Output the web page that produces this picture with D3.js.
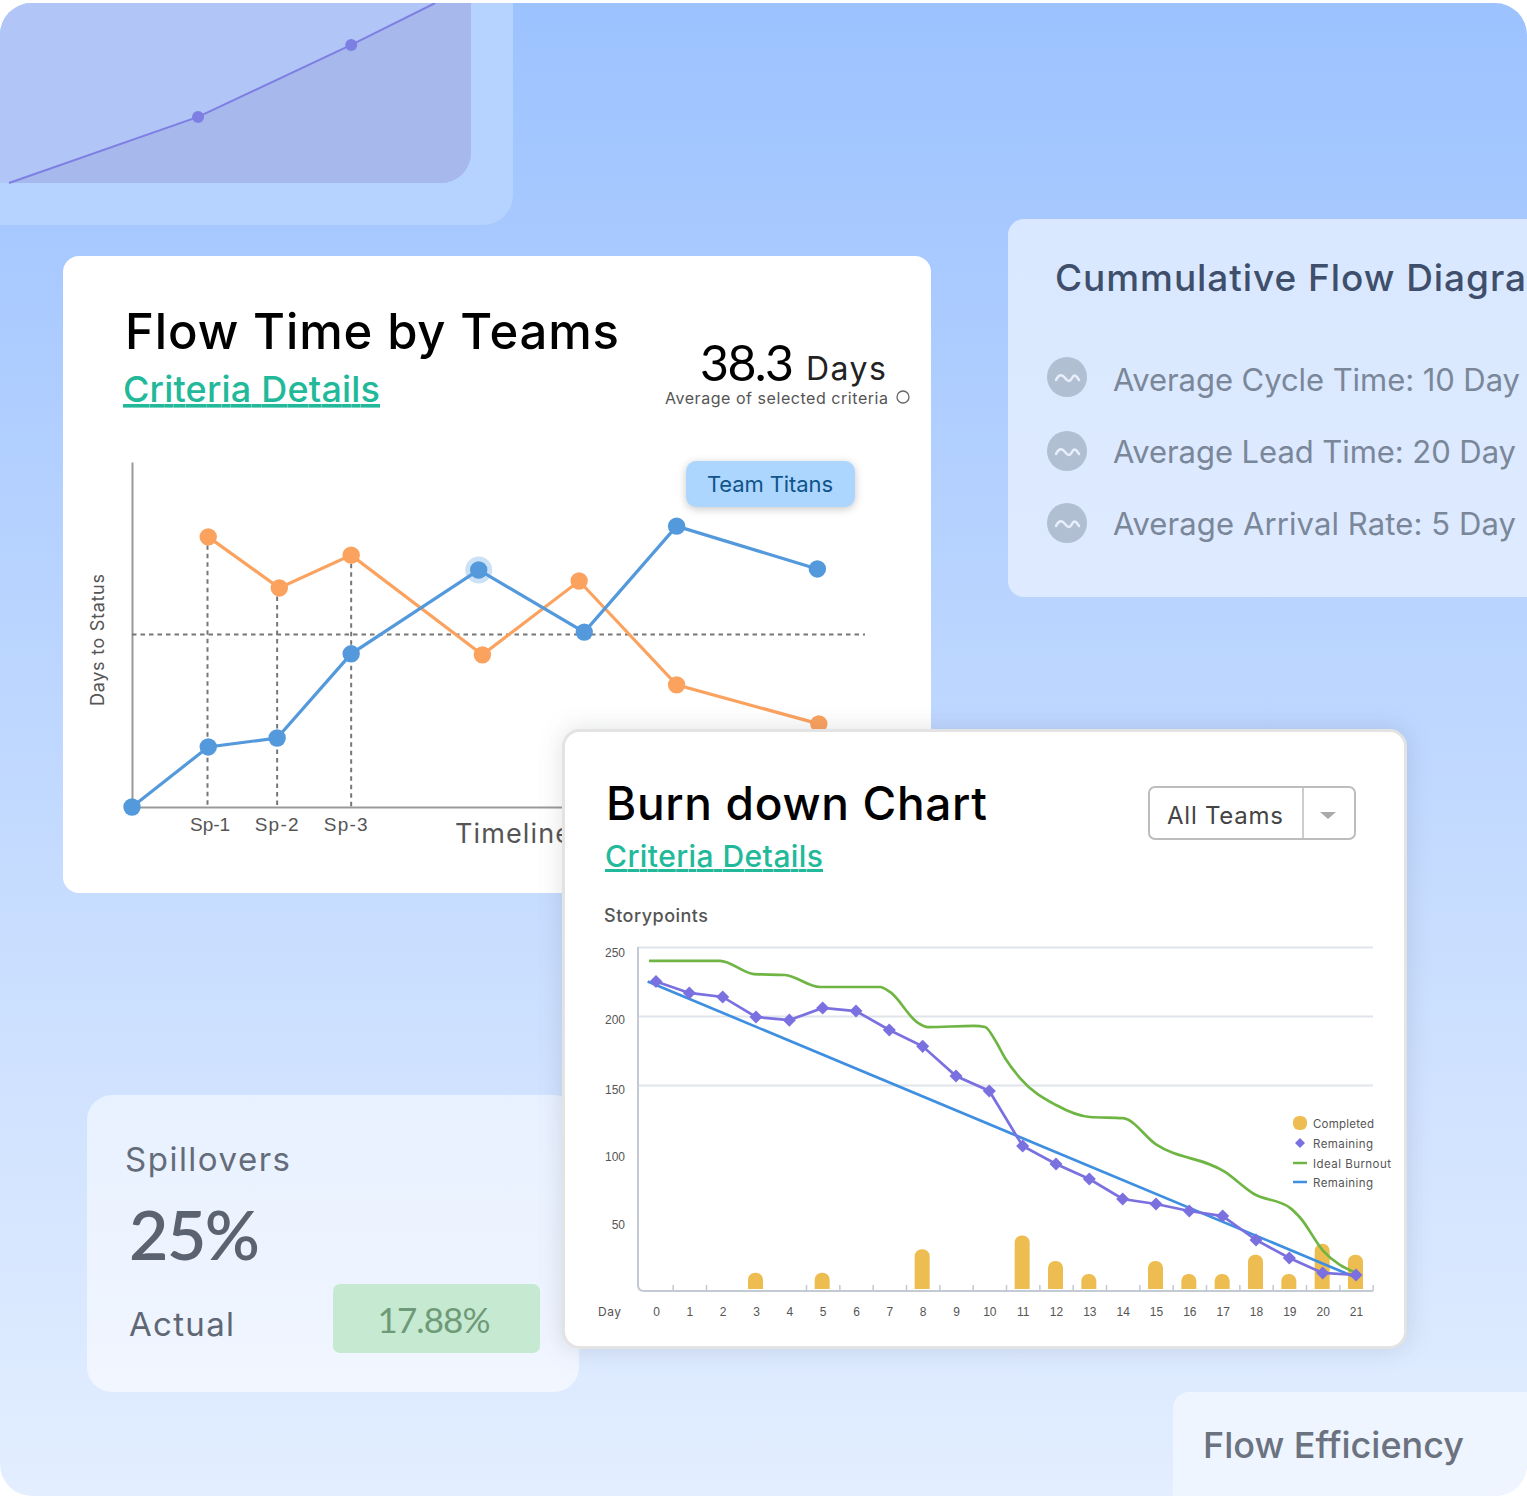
<!DOCTYPE html>
<html>
<head>
<meta charset="utf-8">
<script src="https://cdn.jsdelivr.net/npm/d3@7"></script>
<style>
  html, body { margin: 0; padding: 0; background: #fff; }
  svg { display: block; font-family: Inter, "Noto Sans", sans-serif; }
</style>
</head>
<body>
<div id="chart"></div>
<script>
// top-left decoration line
const decoX = [0.59, 12.97, 23, 28.5];
const decoY = [0, 36.7, 76.7, 100];

// Flow Time by Teams
const sprintNames = ["Sp-1", "Sp-2", "Sp-3"];
const sprintX = [10.3, 19.8, 29.9];
const sprintTop = [78.3, 63.5, 73];
const orangeX = [10.4, 20.1, 29.9, 47.8, 61, 74.3, 93.7];
const orangeY = [78.3, 63.5, 73, 44.1, 65.5, 35.4, 24.1];
const blueX = [0, 10.4, 19.8, 29.9, 47.3, 61.7, 74.3, 93.5];
const blueY = [0, 17.4, 20, 44.4, 68.7, 50.7, 81.4, 69];
const flowAverage = 50;

// Burn down chart
const days = d3.range(0, 22);
const dayBounds = [0.5, 1.5, 4.5, 5.5, 6.5, 7.5, 8.5, 9.5, 10.5, 11.5, 12.5, 13.5, 14.5, 15.5, 16.5, 17.5, 18.5, 19.5, 20.5, 21.5];
const gridValues = [250, 200, 150];
const yTickValues = [250, 200, 150, 100, 50];
const remaining = [225, 216.7, 213.8, 199.3, 197, 205.8, 203.6, 189.9, 178, 156.5, 145.7, 105.8, 92.8, 81.9, 67.4, 63.8, 58.7, 55, 37.7, 24.6, 13.8, 12.3];
const completedDays = [3, 5, 8, 11, 12, 13, 15, 16, 17, 18, 19, 20, 21];
const completed = [14, 14, 31, 41, 22.5, 13, 22.5, 13, 13, 27, 13, 35, 27];
const idealDays = [-0.21, 1.92, 2.94, 3.87, 4.92, 6.72, 7.02, 7.86, 8.16, 9.54, 9.87, 10.17, 10.47, 10.92, 12, 13.02, 14.01, 15, 17.07, 17.94, 19.02, 19.32, 20.01, 21];
const idealValues = [240, 240, 230.4, 229.7, 221, 221, 217.4, 195, 192, 192.8, 192, 182.6, 169.6, 155, 135.5, 126.8, 126, 107, 87, 71, 61, 54, 30, 13.8];
const trendDays = [-0.25, 21];
const trendValues = [225, 10.5];
const legendNames = ["Completed", "Remaining", "Ideal Burnout", "Remaining"];
const legendWidths = [61, 60, 78, 60];

// side cards
const flowMetrics = ["Average Cycle Time: 10 Day", "Average Lead Time: 20 Day", "Average Arrival Rate: 5 Day"];
const flowMetricWidths = [407, 403, 403];

const width = 1527, height = 1496;
const svg = d3.select("#chart").append("svg").attr("width", width).attr("height", height);
const defs = svg.append("defs");

const bgGrad = defs.append("linearGradient").attr("id", "bg").attr("x1", 0).attr("y1", 0).attr("x2", 0).attr("y2", 1);
bgGrad.append("stop").attr("offset", "0%").attr("stop-color", "#9cc2ff");
bgGrad.append("stop").attr("offset", "100%").attr("stop-color", "#e3eeff");

const spillGrad = defs.append("linearGradient").attr("id", "spill").attr("x1", 0).attr("y1", 0).attr("x2", 0).attr("y2", 1);
spillGrad.append("stop").attr("offset", "0%").attr("stop-color", "#e8f1ff");
spillGrad.append("stop").attr("offset", "100%").attr("stop-color", "#f1f6ff");

const cumGrad = defs.append("linearGradient").attr("id", "cum").attr("x1", 0).attr("y1", 0).attr("x2", 0).attr("y2", 1);
cumGrad.append("stop").attr("offset", "0%").attr("stop-color", "#d9e8ff");
cumGrad.append("stop").attr("offset", "100%").attr("stop-color", "#deeaff");

defs.append("clipPath").attr("id", "outer").append("rect")
    .attr("x", 0).attr("y", 3).attr("width", width).attr("height", height - 3).attr("rx", 32);
defs.append("clipPath").attr("id", "decoClip").append("path").attr("d", cornerRect(0, 3, 471, 180, [30, 0, 30, 0]));

// rect with own radius per corner: tl, tr, br, bl
function cornerRect(x, y, w, h, r) {
    const p = d3.path();
    p.moveTo(x + r[0], y);
    p.lineTo(x + w - r[1], y);
    if (r[1]) p.arcTo(x + w, y, x + w, y + r[1], r[1]);
    p.lineTo(x + w, y + h - r[2]);
    if (r[2]) p.arcTo(x + w, y + h, x + w - r[2], y + h, r[2]);
    p.lineTo(x + r[3], y + h);
    if (r[3]) p.arcTo(x, y + h, x, y + h - r[3], r[3]);
    p.lineTo(x, y + r[0]);
    if (r[0]) p.arcTo(x, y, x + r[0], y, r[0]);
    p.closePath();
    return p.toString();
}

// fit = width the text should take, the installed font runs narrower
function label(parent, str, x, y, size, color, weight, anchor, fit) {
    const t = parent.append("text")
        .attr("x", x).attr("y", y)
        .attr("font-size", size)
        .attr("fill", color)
        .attr("font-weight", weight || 400)
        .attr("text-anchor", anchor || "start")
        .text(str);
    if (fit) t.attr("textLength", fit).attr("lengthAdjust", "spacing");
    return t;
}

const root = svg.append("g").attr("clip-path", "url(#outer)");
root.append("rect").attr("width", width).attr("height", height).attr("fill", "url(#bg)");

// ---- top-left decoration
root.append("path").attr("d", cornerRect(0, 0, 513, 225, [0, 0, 30, 0])).attr("fill", "#b5d3fe");
const deco = root.append("g");
deco.append("path").attr("d", cornerRect(0, 3, 471, 180, [30, 0, 30, 0])).attr("fill", "#b1c5f6");

const decoSx = d3.scaleLinear().domain([0, 100]).range([0, 1527]);
const decoSy = d3.scaleLinear().domain([0, 100]).range([183, 3]);
const decoAreaX = decoX.concat([100]);
const decoAreaY = decoY.concat([100]);
deco.append("path")
    .attr("clip-path", "url(#decoClip)")
    .attr("fill", "#a7b9ec")
    .attr("d", d3.area().x((d, i) => decoSx(decoAreaX[i])).y0(decoSy(0)).y1((d, i) => decoSy(decoAreaY[i]))(decoAreaX));
deco.append("path")
    .attr("fill", "none").attr("stroke", "#7e7fe3").attr("stroke-width", 2)
    .attr("d", d3.line().x((d, i) => decoSx(decoX[i])).y((d, i) => decoSy(decoY[i]))(decoX));
deco.selectAll("circle").data(decoX.slice(1, 3)).join("circle")
    .attr("cx", d => decoSx(d))
    .attr("cy", (d, i) => decoSy(decoY[i + 1]))
    .attr("r", 6)
    .attr("fill", "#7e7fe3");

// ---- Cummulative Flow Diagram card
root.append("path").attr("d", cornerRect(1008, 219, 540, 378, [16, 0, 0, 16])).attr("fill", "url(#cum)");
label(root, "Cummulative Flow Diagra", 1055, 291, 37, "#3f4f6b", 500, "start", 471);
const iconY = [377, 451, 523];
flowMetrics.forEach((m, i) => {
    const cy = iconY[i];
    root.append("circle").attr("cx", 1067).attr("cy", cy).attr("r", 20).attr("fill", "#b1bfd3");
    root.append("path")
        .attr("d", `M1056,${cy + 3}c3,-6 6,-6 9,-2s5,4 7,0s4,-3 7,2`)
        .attr("fill", "none").attr("stroke", "#e8effb").attr("stroke-width", 2.5).attr("stroke-linecap", "round");
    label(root, m, 1113, [391, 463, 535][i], 31, "#7a8799", 400, "start", flowMetricWidths[i]);
});

// ---- Spillovers card
root.append("rect").attr("x", 87).attr("y", 1095).attr("width", 492).attr("height", 297).attr("rx", 25).attr("fill", "url(#spill)");
label(root, "Spillovers", 125, 1171, 33, "#646c7a", 400, "start", 165);
label(root, "25%", 129, 1260, 68, "#5b6270", 600, "start", 131).attr("font-family", "Lato");
label(root, "Actual", 129, 1336, 33, "#5f6775", 400, "start", 105);
root.append("rect").attr("x", 333).attr("y", 1284).attr("width", 207).attr("height", 69).attr("rx", 7).attr("fill", "#c6e9d1");
label(root, "17.88%", 434, 1333, 35, "#6f9a78", 400, "middle", 113).attr("font-family", "Lato");

// ---- Flow Efficiency card
root.append("path").attr("d", cornerRect(1173, 1392, 354, 104, [16, 0, 0, 0])).attr("fill", "#eff5ff");
label(root, "Flow Efficiency", 1203, 1458, 36, "#6b7280", 500, "start", 261);

// ---- Flow Time by Teams card
root.append("rect").attr("x", 63).attr("y", 256).attr("width", 868).attr("height", 637).attr("rx", 16).attr("fill", "#fff");
label(root, "Flow Time by Teams", 125, 349, 49, "#000", 500, "start", 494);
label(root, "Criteria Details", 123, 402, 36, "#22b99a", 500, "start", 257).attr("text-decoration", "underline");
label(root, "38.3", 700, 381, 50, "#000", 400, "start", 94).attr("font-family", "Lato");
label(root, "Days", 806, 380, 32, "#222", 400, "start", 80);
label(root, "Average of selected criteria", 665, 404, 16, "#555", 400, "start", 223);
root.append("circle").attr("cx", 903).attr("cy", 397).attr("r", 6).attr("fill", "#fff").attr("stroke", "#666").attr("stroke-width", 1.3);

const fx = d3.scaleLinear().domain([0, 100]).range([132, 865]);
const fy = d3.scaleLinear().domain([0, 100]).range([807, 462]);

const fAxisX = root.append("g").attr("transform", "translate(0,807)")
    .call(d3.axisBottom(fx).tickValues(sprintX).tickSize(0).tickPadding(11).tickFormat((d, i) => sprintNames[i]));
fAxisX.select(".domain").attr("stroke", "#999").attr("stroke-width", 2);
fAxisX.selectAll("text").attr("font-size", 19).attr("fill", "#555").attr("font-family", "inherit")
    .attr("dx", (d, i) => [2, -1, -6][i])
    .attr("textLength", (d, i) => [40, 44, 44][i]);

const fAxisY = root.append("g").attr("transform", "translate(132,0)")
    .call(d3.axisLeft(fy).tickValues([]).tickSize(0));
fAxisY.select(".domain").attr("stroke", "#999").attr("stroke-width", 2);

label(root, "Days to Status", 0, 0, 18, "#555", 400, "middle", 132).attr("transform", "translate(104,640) rotate(-90)");
label(root, "Timeline", 455, 843, 27, "#555", 400, "start", 116);

root.append("line")
    .attr("x1", fx(0)).attr("x2", fx(100)).attr("y1", fy(flowAverage)).attr("y2", fy(flowAverage))
    .attr("stroke", "#777").attr("stroke-width", 2).attr("stroke-dasharray", "4.5 4");
root.selectAll(".sprint-drop").data(sprintX).join("line")
    .attr("class", "sprint-drop")
    .attr("x1", d => fx(d)).attr("x2", d => fx(d))
    .attr("y1", (d, i) => fy(sprintTop[i])).attr("y2", fy(0))
    .attr("stroke", "#777").attr("stroke-width", 2).attr("stroke-dasharray", "4.5 4");

function flowSeries(xs, ys, color) {
    const g = root.append("g");
    g.append("path")
        .attr("fill", "none").attr("stroke", color).attr("stroke-width", 3.2)
        .attr("d", d3.line().x((d, i) => fx(xs[i])).y((d, i) => fy(ys[i]))(xs));
    g.selectAll("circle").data(xs).join("circle")
        .attr("cx", d => fx(d))
        .attr("cy", (d, i) => fy(ys[i]))
        .attr("r", 8.7)
        .attr("fill", color);
}
root.append("circle").attr("cx", fx(blueX[4])).attr("cy", fy(blueY[4])).attr("r", 13.5).attr("fill", "#cbe2f6");
flowSeries(orangeX, orangeY, "#fba25f");
flowSeries(blueX, blueY, "#5399db");

// team tooltip
root.append("rect").attr("x", 686).attr("y", 461).attr("width", 169).attr("height", 46).attr("rx", 10)
    .attr("fill", "#acd6fe").style("filter", "drop-shadow(0 2px 4px rgba(0,0,0,0.22))");
label(root, "Team Titans", 770, 492, 22, "#10548a", 400, "middle", 126);

// ---- Burn down card
root.append("rect").attr("x", 563.5).attr("y", 730.5).attr("width", 842).attr("height", 617).attr("rx", 16)
    .attr("fill", "#fff").attr("stroke", "#e3e3e3").attr("stroke-width", 3)
    .style("filter", "drop-shadow(0 0 12px rgba(60,70,90,0.16))");
label(root, "Burn down Chart", 606, 820, 46, "#000", 500, "start", 381);
label(root, "Criteria Details", 605, 867, 30, "#22b99a", 500, "start", 218).attr("text-decoration", "underline");

root.append("rect").attr("x", 1149).attr("y", 787).attr("width", 206).attr("height", 52).attr("rx", 6)
    .attr("fill", "#fff").attr("stroke", "#bdbdbd").attr("stroke-width", 2);
root.append("line").attr("x1", 1303).attr("x2", 1303).attr("y1", 787).attr("y2", 839).attr("stroke", "#bdbdbd").attr("stroke-width", 1.5);
label(root, "All Teams", 1167, 824, 24, "#444", 400, "start", 116);
root.append("path").attr("d", "M1320,812L1336,812L1328,819Z").attr("fill", "#aaa");

label(root, "Storypoints", 604, 922, 18, "#555", 500, "start", 104);

const bx = d3.scaleLinear().domain([0, 21]).range([656, 1356]);
const by = d3.scaleLinear().domain([0, 250]).range([1292, 947]);

const grid = root.append("g").attr("transform", "translate(638,0)")
    .call(d3.axisRight(by).tickValues(gridValues).tickSize(735).tickFormat(""));
grid.select(".domain").remove();
grid.selectAll("line").attr("stroke", "#e0e4eb").attr("stroke-width", 2.2);

// the labels do not sit exactly on their gridlines in the original
const yAxis = root.append("g").attr("transform", "translate(625,0)")
    .call(d3.axisLeft(by).tickValues(yTickValues).tickSize(0).tickPadding(0));
yAxis.select(".domain").remove();
yAxis.selectAll("text").attr("font-size", 12).attr("fill", "#555").attr("font-family", "inherit")
    .attr("dy", (d, i) => [9.5, 7.5, 8.5, 6.5, 5.5][i]);

// ticks sit between the days
const boundAxis = root.append("g").attr("transform", "translate(0,1291)")
    .call(d3.axisTop(bx).tickValues(dayBounds).tickSize(6).tickFormat(""));
boundAxis.select(".domain").remove();
boundAxis.selectAll("line").attr("stroke", "#c3cad4").attr("stroke-width", 1.5);

const dayAxis = root.append("g").attr("transform", "translate(0,1291)")
    .call(d3.axisBottom(bx).tickValues(days).tickSize(0).tickPadding(16));
dayAxis.select(".domain").remove();
dayAxis.selectAll("text").attr("font-size", 12).attr("fill", "#555").attr("font-family", "inherit");
label(root, "Day", 598, 1316, 12, "#555", 400, "start", 23);

root.append("path")
    .attr("d", "M638,947L638,1285Q638,1291 644,1291L1373,1291")
    .attr("fill", "none").attr("stroke", "#c3cad4").attr("stroke-width", 2);

root.selectAll(".done").data(completedDays).join("path")
    .attr("class", "done")
    .attr("fill", "#eebd52")
    .attr("d", (d, i) => cornerRect(bx(d) - 8, by(completed[i]), 15, by(0) - 3 - by(completed[i]), [7, 7, 0, 0]));

root.append("path")
    .attr("fill", "none").attr("stroke", "#6fb543").attr("stroke-width", 2.7)
    .attr("d", d3.line().curve(d3.curveMonotoneX).x((d, i) => bx(idealDays[i])).y((d, i) => by(idealValues[i]))(idealDays));
root.append("path")
    .attr("fill", "none").attr("stroke", "#3f8fe0").attr("stroke-width", 2.7)
    .attr("d", d3.line().x((d, i) => bx(trendDays[i])).y((d, i) => by(trendValues[i]))(trendDays));
root.append("path")
    .attr("fill", "none").attr("stroke", "#7b70e0").attr("stroke-width", 2.7)
    .attr("d", d3.line().x((d, i) => bx(i)).y(d => by(d))(remaining));
root.selectAll(".rem").data(remaining).join("path")
    .attr("class", "rem")
    .attr("fill", "#7b70e0")
    .attr("transform", (d, i) => `translate(${bx(i)},${by(d)}) rotate(45)`)
    .attr("d", d3.symbol(d3.symbolSquare, 85));

// legend
const legendY = [1123, 1143, 1163, 1182];
legendNames.forEach((n, i) => {
    label(root, n, 1313, legendY[i] + 4.5, 11.5, "#555", 400, "start", legendWidths[i]);
});
root.append("rect").attr("x", 1293).attr("y", 1116).attr("width", 14).attr("height", 14).attr("rx", 6).attr("fill", "#eebd52");
root.append("path").attr("transform", `translate(1300,${legendY[1]}) rotate(45)`).attr("d", d3.symbol(d3.symbolSquare, 50)).attr("fill", "#7b70e0");
root.append("line").attr("x1", 1293).attr("x2", 1307).attr("y1", legendY[2]).attr("y2", legendY[2]).attr("stroke", "#6fb543").attr("stroke-width", 2.5);
root.append("line").attr("x1", 1293).attr("x2", 1307).attr("y1", legendY[3]).attr("y2", legendY[3]).attr("stroke", "#3f8fe0").attr("stroke-width", 2.5);
</script>
</body>
</html>
